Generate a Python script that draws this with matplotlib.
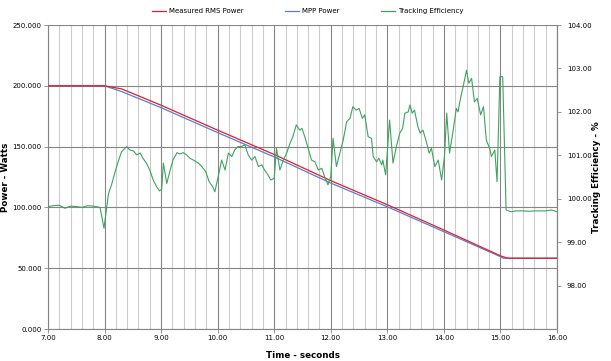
import numpy as np
import matplotlib
matplotlib.use('Agg')
import matplotlib.pyplot as plt
from matplotlib.lines import Line2D
from matplotlib.ticker import MultipleLocator, FormatStrFormatter

# Power curves (time in s, power in W)
t_rms = [7.0, 8.0, 8.3, 9.0, 10.0, 11.0, 12.0, 13.0, 14.0, 15.0, 15.1, 15.15, 16.0]
p_rms = [200, 200, 197.5, 184.0, 163.5, 143.5, 122.0, 102.2, 81.4, 60.2, 58.6, 58.2, 58.2]

t_mpp = [7.0, 8.0, 8.3, 9.0, 10.0, 11.0, 12.0, 13.0, 14.0, 15.0, 15.05, 16.0]
p_mpp = [200, 200, 195.3, 182.0, 161.5, 141.5, 120.0, 100.5, 80.0, 59.5, 58.2, 58.2]

# Tracking efficiency (%)
t_eff = [7.0, 7.1, 7.2, 7.3, 7.4, 7.5, 7.6, 7.7, 7.8, 7.92, 7.99, 8.07, 8.13, 8.18,
         8.24, 8.30, 8.39, 8.45, 8.51, 8.57, 8.63, 8.68, 8.74, 8.80, 8.86, 8.92,
         8.97, 9.01, 9.04, 9.10, 9.16, 9.21, 9.28, 9.33, 9.39, 9.45, 9.51, 9.57,
         9.66, 9.72, 9.79, 9.85, 9.91, 9.95, 10.01, 10.07, 10.13, 10.19, 10.25,
         10.30, 10.36, 10.42, 10.48, 10.54, 10.60, 10.66, 10.72, 10.78, 10.83,
         10.89, 10.94, 11.0, 11.04, 11.10, 11.16, 11.22, 11.28, 11.33, 11.39,
         11.45, 11.49, 11.54, 11.60, 11.66, 11.72, 11.78, 11.84, 11.89, 11.95,
         12.0, 12.04, 12.10, 12.16, 12.22, 12.28, 12.34, 12.39, 12.45, 12.50,
         12.56, 12.60, 12.66, 12.72, 12.75, 12.81, 12.85, 12.90, 12.92, 12.97,
         13.04, 13.10, 13.16, 13.22, 13.27, 13.31, 13.37, 13.40, 13.44, 13.48,
         13.54, 13.58, 13.63, 13.69, 13.74, 13.78, 13.84, 13.90, 13.96, 14.01,
         14.05, 14.10, 14.16, 14.22, 14.25, 14.30, 14.34, 14.40, 14.44, 14.49,
         14.54, 14.59, 14.65, 14.70, 14.75, 14.81, 14.84, 14.90, 14.94, 14.99,
         15.04, 15.10, 15.19, 15.28, 15.4, 15.5, 15.6, 15.7, 15.8, 15.9, 16.0]
eff = [99.82, 99.84, 99.85, 99.78, 99.83, 99.82, 99.80, 99.84, 99.83, 99.80, 99.32,
       100.12, 100.35, 100.59, 100.85, 101.08, 101.20, 101.12, 101.10, 101.01,
       101.05, 100.93, 100.82, 100.66, 100.43, 100.28, 100.18, 100.22, 100.82,
       100.35, 100.66, 100.89, 101.06, 101.03, 101.06, 101.01, 100.93, 100.89,
       100.82, 100.74, 100.62, 100.39, 100.28, 100.16, 100.51, 100.89, 100.66,
       101.05, 100.97, 101.12, 101.20, 101.20, 101.24, 101.01, 100.89, 100.97,
       100.74, 100.78, 100.66, 100.55, 100.43, 100.47, 101.16, 100.66, 100.89,
       101.05, 101.28, 101.43, 101.70, 101.58, 101.62, 101.43, 101.16, 100.89,
       100.85, 100.66, 100.70, 100.51, 100.32, 100.51, 101.39, 100.74, 101.05,
       101.35, 101.77, 101.85, 102.12, 102.04, 102.08, 101.85, 101.93, 101.43,
       101.39, 100.97, 100.85, 100.93, 100.78, 100.89, 100.55, 101.81, 100.82,
       101.20, 101.51, 101.62, 101.97, 102.00, 102.16, 101.97, 102.04, 101.66,
       101.51, 101.58, 101.31, 101.05, 101.16, 100.74, 100.89, 100.43, 100.97,
       101.97, 101.05, 101.54, 102.08, 102.00, 102.35, 102.58, 102.96, 102.66,
       102.77, 102.23, 102.31, 101.93, 102.12, 101.35, 101.16, 100.97, 101.12,
       100.39, 102.81, 102.81, 99.74, 99.70, 99.72, 99.72, 99.71, 99.72, 99.72,
       99.72, 99.74, 99.70]

red = '#e0202c'
blue = '#5b7fcf'
green = '#3ea35e'

fig = plt.figure(figsize=(6.11, 3.61), dpi=100)
ax = fig.add_axes([48/611, 1-329/361, 509/611, 304/361])
ax2 = ax.twinx()

fs = 5.0
ax.set_xlim(7, 16)
ax.set_ylim(0, 250)
ax.xaxis.set_major_locator(MultipleLocator(1))
ax.xaxis.set_minor_locator(MultipleLocator(0.2))
ax.yaxis.set_major_locator(MultipleLocator(50))
ax.xaxis.set_major_formatter(FormatStrFormatter('%.2f'))
ax.yaxis.set_major_formatter(FormatStrFormatter('%.3f'))
ax.grid(which='minor', axis='x', color='#cccccc', lw=0.8)
ax.grid(which='major', axis='x', color='#858585', lw=0.8)
ax.grid(which='major', axis='y', color='#858585', lw=0.8)
ax.set_axisbelow(True)
ax.tick_params(which='minor', length=0)
ax.tick_params(which='major', length=3, width=0.6, color='#858585', labelsize=fs, pad=1.5)

ax.plot(t_mpp, p_mpp, color=blue, lw=0.9, zorder=3)
ax.plot(t_rms, p_rms, color=red, lw=0.9, zorder=4)

ax2.set_ylim(97, 104)
ax2.set_yticks([98, 99, 100, 101, 102, 103, 104])
ax2.yaxis.set_major_formatter(FormatStrFormatter('%.2f'))
ax2.tick_params(length=3, width=0.6, color='#858585', labelsize=fs, pad=4)
ax2.plot(t_eff, eff, color=green, lw=0.8, zorder=2)

for a in (ax, ax2):
    for s in a.spines.values():
        s.set_color('#858585')
        s.set_linewidth(0.8)
    a.spines['top'].set_visible(False)
ax2.spines['left'].set_visible(False)
ax2.spines['bottom'].set_visible(False)

ax.set_xlabel('Time - seconds', fontsize=6.3, fontweight='bold')
ax.xaxis.set_label_coords(0.5, (329-351)/304)
ax.set_ylabel('Power - Watts', fontsize=6.3, fontweight='bold')
ax.yaxis.set_label_coords((10-48)/509, 0.5)
ax2.set_ylabel('Tracking Efficiency - %', fontsize=6.3, fontweight='bold')
ax2.yaxis.set_label_coords((592-48)/509, 0.5)

handles = [Line2D([], [], color=red, lw=0.9), Line2D([], [], color=blue, lw=0.9),
           Line2D([], [], color=green, lw=0.9)]
fig.legend(handles, ['Measured RMS Power', 'MPP Power', 'Tracking Efficiency'],
           loc='center', bbox_to_anchor=(0.504, 1-11/361), ncol=3, frameon=False,
           fontsize=fs, handlelength=2.0, columnspacing=6.0, handletextpad=0.4)

fig.savefig('out.png', dpi=100)
